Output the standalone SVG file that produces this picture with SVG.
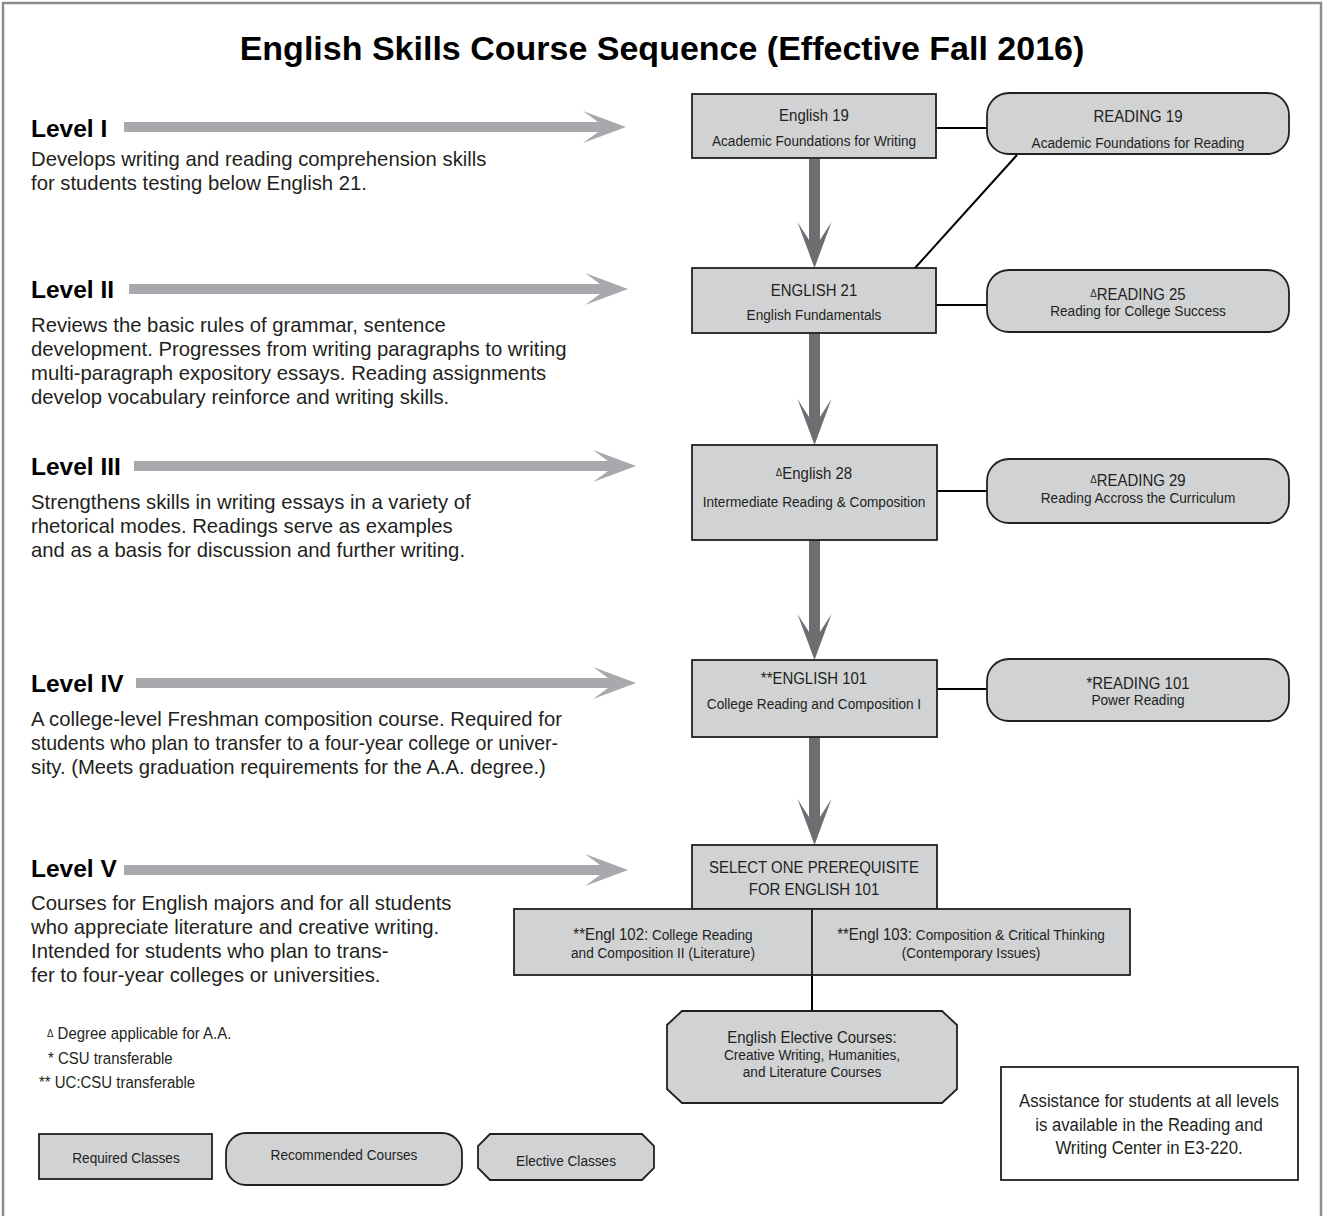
<svg xmlns="http://www.w3.org/2000/svg" width="1324" height="1216" viewBox="0 0 1324 1216">
<style>
.bg{fill:#ffffff}
.frame{fill:none;stroke:#8c8c8c;stroke-width:2.5}
.title{font-family:"Liberation Sans",Arial,sans-serif;font-weight:bold;font-size:34px;fill:#000}
.lvl{font-family:"Liberation Sans",Arial,sans-serif;font-weight:bold;font-size:24.5px;fill:#000}
.desc{font-family:"Liberation Sans",Arial,sans-serif;font-size:20.3px;fill:#231f20}
.t1{font-family:"Liberation Sans",Arial,sans-serif;font-size:17px;fill:#231f20;text-anchor:middle}
.t2{font-family:"Liberation Sans",Arial,sans-serif;font-size:15.5px;fill:#231f20;text-anchor:middle}
.t3{font-family:"Liberation Sans",Arial,sans-serif;font-size:19px;fill:#231f20;text-anchor:middle}
.n{font-family:"Liberation Sans",Arial,sans-serif;font-size:17px;fill:#231f20}
.box{fill:#d1d2d4;stroke:#231f20;stroke-width:1.8}
.wbox{fill:#fff;stroke:#231f20;stroke-width:1.8}
.larrow{fill:#a7a9ac}
.darrow{fill:#6d6e71}
.line{stroke:#000;stroke-width:2;fill:none}
.tri{font-size:11px}
</style>
<rect class="bg" width="1324" height="1216"/>
<path class="frame" d="M3,1220 V3 H1321 V1220"/>
<text class="title" x="662" y="60" text-anchor="middle">English Skills Course Sequence (Effective Fall 2016)</text>

<g id="level-labels">
<g id="level1">
<text class="lvl" x="31" y="137">Level I</text>
<polygon class="larrow" points="124,122 598,122 583,111 626,127 583,143 598,132 124,132"/>
<text class="desc" x="31" y="166">Develops writing and reading comprehension skills</text>
<text class="desc" x="31" y="190">for students testing below English 21.</text>
</g>
<g id="level2">
<text class="lvl" x="31" y="298">Level II</text>
<polygon class="larrow" points="129,284 600,284 585,273 628,289 585,305 600,294 129,294"/>
<text class="desc" x="31" y="332">Reviews the basic rules of grammar, sentence</text>
<text class="desc" x="31" y="356">development. Progresses from writing paragraphs to writing</text>
<text class="desc" x="31" y="380">multi-paragraph expository essays. Reading assignments</text>
<text class="desc" x="31" y="404">develop vocabulary reinforce and writing skills.</text>
</g>
<g id="level3">
<text class="lvl" x="31" y="475">Level III</text>
<polygon class="larrow" points="134,461 608,461 593,450 636,466 593,482 608,471 134,471"/>
<text class="desc" x="31" y="509">Strengthens skills in writing essays in a variety of</text>
<text class="desc" x="31" y="533">rhetorical modes. Readings serve as examples</text>
<text class="desc" x="31" y="557">and as a basis for discussion and further writing.</text>
</g>
<g id="level4">
<text class="lvl" x="31" y="692">Level IV</text>
<polygon class="larrow" points="136,678 608,678 593,667 636,683 593,699 608,688 136,688"/>
<text class="desc" x="31" y="726">A college-level Freshman composition course. Required for</text>
<text class="desc" x="31" y="750" textLength="527" lengthAdjust="spacingAndGlyphs">students who plan to transfer to a four-year college or univer-</text>
<text class="desc" x="31" y="774">sity. (Meets graduation requirements for the A.A. degree.)</text>
</g>
<g id="level5">
<text class="lvl" x="31" y="877">Level V</text>
<polygon class="larrow" points="124,865 600,865 585,854 628,870 585,886 600,875 124,875"/>
<text class="desc" x="31" y="910">Courses for English majors and for all students</text>
<text class="desc" x="31" y="934">who appreciate literature and creative writing.</text>
<text class="desc" x="31" y="958">Intended for students who plan to trans-</text>
<text class="desc" x="31" y="982">fer to four-year colleges or universities.</text>
</g>
</g>

<g id="connectors">
<line class="line" x1="936" y1="128" x2="987" y2="128"/>
<line class="line" x1="1017" y1="155" x2="915" y2="268"/>
<line class="line" x1="936" y1="305" x2="987" y2="305"/>
<line class="line" x1="936" y1="491" x2="987" y2="491"/>
<line class="line" x1="936" y1="689" x2="987" y2="689"/>
<line class="line" x1="812" y1="975" x2="812" y2="1011"/>
<polygon class="darrow" points="809,159 809,240 797.5,222 814.5,268 831.5,222 820,240 820,159"/>
<polygon class="darrow" points="809,333 809,417 797.5,399 814.5,445 831.5,399 820,417 820,333"/>
<polygon class="darrow" points="809,540 809,632 797.5,614 814.5,660 831.5,614 820,632 820,540"/>
<polygon class="darrow" points="809,737 809,817 797.5,799 814.5,845 831.5,799 820,817 820,737"/>
</g>

<g id="english19">
<rect class="box" x="692" y="94" width="244" height="64"/>
<text class="t1" transform="translate(814 121) scale(.88 1)">English 19</text>
<text class="t2" transform="translate(814 146) scale(.88 1)">Academic Foundations for Writing</text>
</g>
<g id="reading19">
<rect class="box" x="987" y="93" width="302" height="61" rx="22"/>
<text class="t1" transform="translate(1138 122) scale(.88 1)">READING 19</text>
<text class="t2" transform="translate(1138 148) scale(.88 1)">Academic Foundations for Reading</text>
</g>
<g id="english21">
<rect class="box" x="692" y="268" width="244" height="65"/>
<text class="t1" transform="translate(814 296) scale(.88 1)">ENGLISH 21</text>
<text class="t2" transform="translate(814 320) scale(.88 1)">English Fundamentals</text>
</g>
<g id="reading25">
<rect class="box" x="987" y="270" width="302" height="62" rx="22"/>
<text class="t1" transform="translate(1138 300) scale(.88 1)"><tspan class="tri" dy="-3">Δ</tspan><tspan dy="3">READING 25</tspan></text>
<text class="t2" transform="translate(1138 316) scale(.88 1)">Reading for College Success</text>
</g>
<g id="english28">
<rect class="box" x="692" y="445" width="245" height="95"/>
<text class="t1" transform="translate(814 479) scale(.88 1)"><tspan class="tri" dy="-3">Δ</tspan><tspan dy="3">English 28</tspan></text>
<text class="t2" transform="translate(814 507) scale(.88 1)">Intermediate Reading &amp; Composition</text>
</g>
<g id="reading29">
<rect class="box" x="987" y="459" width="302" height="64" rx="22"/>
<text class="t1" transform="translate(1138 486) scale(.88 1)"><tspan class="tri" dy="-3">Δ</tspan><tspan dy="3">READING 29</tspan></text>
<text class="t2" transform="translate(1138 503) scale(.88 1)">Reading Accross the Curriculum</text>
</g>
<g id="english101">
<rect class="box" x="692" y="660" width="245" height="77"/>
<text class="t1" transform="translate(814 684) scale(.88 1)">**ENGLISH 101</text>
<text class="t2" transform="translate(814 709) scale(.88 1)">College Reading and Composition I</text>
</g>
<g id="reading101">
<rect class="box" x="987" y="659" width="302" height="62" rx="22"/>
<text class="t1" transform="translate(1138 689) scale(.88 1)">*READING 101</text>
<text class="t2" transform="translate(1138 705) scale(.88 1)">Power Reading</text>
</g>
<g id="select">
<rect class="box" x="692" y="845" width="245" height="64"/>
<text class="t1" transform="translate(814 873) scale(.88 1)">SELECT ONE PREREQUISITE</text>
<text class="t1" transform="translate(814 895) scale(.88 1)">FOR ENGLISH 101</text>
</g>
<g id="engl102">
<rect class="box" x="514" y="909" width="298" height="66"/>
<text class="t2" transform="translate(663 940) scale(.88 1)"><tspan font-size="17px">**Engl 102:</tspan> College Reading</text>
<text class="t2" transform="translate(663 958) scale(.88 1)">and Composition II (Literature)</text>
</g>
<g id="engl103">
<rect class="box" x="812" y="909" width="318" height="66"/>
<text class="t2" transform="translate(971 940) scale(.88 1)"><tspan font-size="17px">**Engl 103:</tspan> Composition &amp; Critical Thinking</text>
<text class="t2" transform="translate(971 958) scale(.88 1)">(Contemporary Issues)</text>
</g>
<g id="electives">
<polygon class="box" points="682,1011 942,1011 957,1025 957,1089 942,1103 682,1103 667,1089 667,1025"/>
<text class="t1" transform="translate(812 1043) scale(.88 1)">English Elective Courses:</text>
<text class="t2" transform="translate(812 1060) scale(.88 1)">Creative Writing, Humanities,</text>
<text class="t2" transform="translate(812 1077) scale(.88 1)">and Literature Courses</text>
</g>
<g id="assistance">
<rect class="wbox" x="1001" y="1067" width="297" height="113"/>
<text class="t3" transform="translate(1149 1107) scale(.88 1)">Assistance for students at all levels</text>
<text class="t3" transform="translate(1149 1131) scale(.88 1)">is available in the Reading and</text>
<text class="t3" transform="translate(1149 1154) scale(.88 1)">Writing Center in E3-220.</text>
</g>
<g id="notes">
<text class="n" transform="translate(47 1039) scale(.88 1)"><tspan class="tri" dy="-2">Δ</tspan><tspan dy="2"> Degree applicable for A.A.</tspan></text>
<text class="n" transform="translate(48 1064) scale(.88 1)">* CSU transferable</text>
<text class="n" transform="translate(39 1088) scale(.88 1)">** UC:CSU transferable</text>
</g>
<g id="legend-required">
<rect class="box" x="39" y="1134" width="173" height="45"/>
<text class="t2" transform="translate(126 1163) scale(.88 1)">Required Classes</text>
</g>
<g id="legend-recommended">
<rect class="box" x="226" y="1133" width="236" height="52" rx="20"/>
<text class="t2" transform="translate(344 1160) scale(.88 1)">Recommended Courses</text>
</g>
<g id="legend-elective">
<polygon class="box" points="490,1134 642,1134 654,1146 654,1168 642,1180 490,1180 478,1168 478,1146"/>
<text class="t2" transform="translate(566 1166) scale(.88 1)">Elective Classes</text>
</g>
</svg>
